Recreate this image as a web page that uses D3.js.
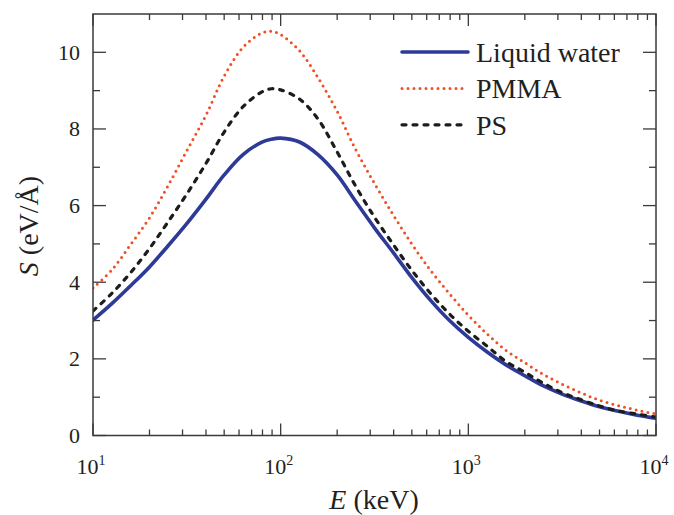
<!DOCTYPE html>
<html>
<head>
<meta charset="utf-8">
<script src="https://cdn.jsdelivr.net/npm/d3@7"></script>
<style>
  html, body { margin: 0; padding: 0; background: #fff; }
  text, tspan { font-family: "Times New Roman", "Liberation Serif", Tinos, serif !important; }
</style>
</head>
<body>
<svg id="chart" width="674" height="515"></svg>
<script>
// Electron energy (keV) sampled on a log grid
const energy = [10, 12.6, 15.8, 20, 25, 31.6, 40, 50, 63, 79, 89, 100, 126, 158, 200, 250, 316, 400, 500, 631, 794,
                1000, 1260, 1580, 2000, 2500, 3160, 4000, 5000, 6310, 7940, 10000];

// Stopping power S (eV/Å)
const water = [3.01, 3.44, 3.90, 4.40, 4.94, 5.53, 6.17, 6.80, 7.33, 7.65, 7.73, 7.76, 7.66, 7.33, 6.80, 6.12, 5.42, 4.76, 4.12, 3.52, 3.00,
               2.56, 2.18, 1.85, 1.56, 1.30, 1.08, 0.90, 0.75, 0.63, 0.53, 0.45];
const pmma  = [3.85, 4.32, 4.97, 5.68, 6.50, 7.43, 8.36, 9.38, 10.13, 10.50, 10.55, 10.46, 10.04, 9.34, 8.46, 7.48, 6.58, 5.74, 5.00, 4.30, 3.70,
               3.14, 2.65, 2.23, 1.90, 1.60, 1.34, 1.11, 0.92, 0.78, 0.66, 0.56];
const ps    = [3.25, 3.71, 4.24, 4.88, 5.56, 6.30, 7.10, 7.92, 8.58, 8.96, 9.05, 9.02, 8.78, 8.26, 7.40, 6.52, 5.70, 4.97, 4.31, 3.70, 3.17,
               2.72, 2.33, 1.94, 1.65, 1.37, 1.12, 0.93, 0.77, 0.64, 0.56, 0.48];

const seriesNames = ["Liquid water", "PMMA", "PS"];
const xTickExponents = ["1", "2", "3", "4"];
const yTickLabels = [0, 2, 4, 6, 8, 10];

const styles = {
  "Liquid water": { color: "#2e3a97", width: 3.6, dash: null, cap: "round" },
  "PMMA":         { color: "#f04e23", width: 3.0, dash: "0 6", cap: "round" },
  "PS":           { color: "#1c1c1c", width: 3.2, dash: "4 7", cap: "round" }
};

const FONT = "Times New Roman";
const svg = d3.select("#chart");
const plot = { left: 93, right: 656, top: 14, bottom: 435.5 };

const x = d3.scaleLog().domain([10, 10000]).range([plot.left, plot.right]);
const y = d3.scaleLinear().domain([0, 11]).range([plot.bottom, plot.top]);

const axisColor = "#3a3a3a";
const textColor = "#231f20";

// Clip region for curves
svg.append("defs").append("clipPath").attr("id", "clip")
  .append("rect")
  .attr("x", plot.left).attr("y", plot.top)
  .attr("width", plot.right - plot.left).attr("height", plot.bottom - plot.top);

// Curves
const line = d3.line()
  .x(d => x(d[0]))
  .y(d => y(d[1]))
  .curve(d3.curveCatmullRom.alpha(0.5));

const dataBySeries = {
  "Liquid water": water,
  "PMMA": pmma,
  "PS": ps
};

const curves = svg.append("g").attr("clip-path", "url(#clip)");
// solid line underneath the dashed ones
["Liquid water", "PS", "PMMA"].forEach(name => {
  const st = styles[name];
  const pts = energy.map((e, i) => [e, dataBySeries[name][i]]);
  const p = curves.append("path")
    .datum(pts)
    .attr("d", line)
    .attr("fill", "none")
    .attr("stroke", st.color)
    .attr("stroke-width", st.width)
    .attr("stroke-linecap", st.cap)
    .attr("stroke-linejoin", "round");
  if (st.dash) p.attr("stroke-dasharray", st.dash);
});

// Frame
svg.append("rect")
  .attr("x", plot.left).attr("y", plot.top)
  .attr("width", plot.right - plot.left).attr("height", plot.bottom - plot.top)
  .attr("fill", "none").attr("stroke", axisColor).attr("stroke-width", 1.5);

// Log ticks (majors at decades, minors at 2..9)
const xMajor = [10, 100, 1000, 10000];
const xMinor = [];
[10, 100, 1000].forEach(d => { for (let k = 2; k <= 9; k++) xMinor.push(d * k); });

const ticks = svg.append("g").attr("stroke", axisColor).attr("stroke-width", 1.3);
xMajor.forEach(v => {
  ticks.append("line").attr("x1", x(v)).attr("x2", x(v)).attr("y1", plot.bottom).attr("y2", plot.bottom - 12);
  ticks.append("line").attr("x1", x(v)).attr("x2", x(v)).attr("y1", plot.top).attr("y2", plot.top + 12);
});
xMinor.forEach(v => {
  ticks.append("line").attr("x1", x(v)).attr("x2", x(v)).attr("y1", plot.bottom).attr("y2", plot.bottom - 6);
  ticks.append("line").attr("x1", x(v)).attr("x2", x(v)).attr("y1", plot.top).attr("y2", plot.top + 6);
});

// Y ticks: majors every 2, minors every 1
d3.range(0, 11).forEach(v => {
  const len = v % 2 === 0 ? 13 : 7;
  ticks.append("line").attr("x1", plot.left).attr("x2", plot.left + len).attr("y1", y(v)).attr("y2", y(v));
  ticks.append("line").attr("x1", plot.right).attr("x2", plot.right - len).attr("y1", y(v)).attr("y2", y(v));
});

// Y tick labels
svg.append("g").selectAll("text").data(yTickLabels).join("text")
  .attr("font-family", FONT)
  .attr("x", 80)
  .attr("y", d => y(d) + 7.5)
  .attr("text-anchor", "end")
  .attr("font-size", 22)
  .attr("fill", textColor)
  .text(d => d);

// X tick labels as powers of ten
const xl = svg.append("g").selectAll("text").data(xTickExponents).join("text")
  .attr("font-family", FONT)
  .attr("x", (d, i) => x(xMajor[i]) - 2)
  .attr("y", 474)
  .attr("text-anchor", "middle")
  .attr("font-size", 22)
  .attr("fill", textColor);
xl.append("tspan").text("10");
xl.append("tspan").attr("dy", -9).attr("font-size", 14).text(d => d);

// Axis titles
const xt = svg.append("text")
  .attr("font-family", FONT)
  .attr("x", 374).attr("y", 509)
  .attr("text-anchor", "middle")
  .attr("font-size", 28)
  .attr("fill", textColor);
xt.append("tspan").attr("font-style", "italic").text("E");
xt.append("tspan").text(" (keV)");

const yt = svg.append("text")
  .attr("font-family", FONT)
  .attr("transform", "translate(38,226) rotate(-90)")
  .attr("text-anchor", "middle")
  .attr("font-size", 28)
  .attr("fill", textColor);
yt.append("tspan").attr("font-style", "italic").text("S");
yt.append("tspan").text(" (eV/Å)");

// Legend
const legend = svg.append("g");
seriesNames.forEach((name, i) => {
  const st = styles[name];
  const ly = 52 + i * 36.4;
  const l = legend.append("line")
    .attr("x1", 402).attr("x2", 468)
    .attr("y1", ly).attr("y2", ly)
    .attr("stroke", st.color)
    .attr("stroke-width", st.width)
    .attr("stroke-linecap", st.cap);
  if (st.dash) l.attr("stroke-dasharray", st.dash);
  legend.append("text")
    .attr("font-family", FONT)
    .attr("x", 476).attr("y", ly + 10)
    .attr("font-size", 28)
    .attr("fill", textColor)
    .text(name);
});
</script>
</body>
</html>
